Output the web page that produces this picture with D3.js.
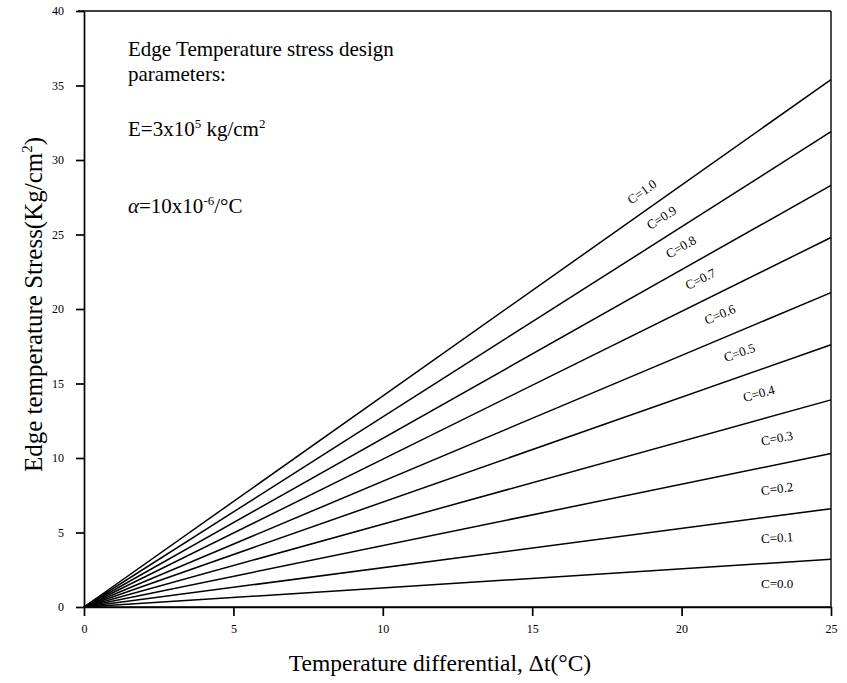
<!DOCTYPE html>
<html>
<head>
<meta charset="utf-8">
<script src="https://cdn.jsdelivr.net/npm/d3@7"></script>
<style>
  body { margin: 0; background: #fff; }
  svg { font-family: "Liberation Serif", "Times New Roman", serif; }
</style>
</head>
<body>
<div id="chart"></div>
<script>
// C coefficients, top line first
const cLabels = ['1.0', '0.9', '0.8', '0.7', '0.6', '0.5', '0.4', '0.3', '0.2', '0.1', '0.0'];
// stress (kg/cm2) read at dt = 25 C for each C
const stressAt25 = [35.4, 31.9, 28.3, 24.8, 21.1, 17.6, 13.9, 10.3, 6.6, 3.2, 0];
const xTicks = [0, 5, 10, 15, 20, 25];
const yTicks = [0, 5, 10, 15, 20, 25, 30, 35, 40];

const width = 847, height = 683;
const margin = { top: 11, right: 16, bottom: 76, left: 84 };

const svg = d3.select('#chart')
  .append('svg')
  .attr('width', width)
  .attr('height', height);

const x = d3.scaleLinear()
  .domain([0, 25])
  .range([margin.left, width - margin.right]);

const y = d3.scaleLinear()
  .domain([0, 40])
  .range([height - margin.bottom, margin.top]);

// frame (top + right)
svg.append('line')
  .attr('x1', x(0) - 6).attr('x2', x(25))
  .attr('y1', y(40)).attr('y2', y(40))
  .attr('stroke', '#000').attr('stroke-width', 1.4);
svg.append('line')
  .attr('x1', x(25)).attr('x2', x(25))
  .attr('y1', y(40)).attr('y2', y(0))
  .attr('stroke', '#000').attr('stroke-width', 1.4);

// axes
const xAxis = svg.append('g')
  .attr('transform', `translate(0,${y(0)})`)
  .call(d3.axisBottom(x).tickValues(xTicks).tickSize(9).tickPadding(8).tickSizeOuter(0));

const yAxis = svg.append('g')
  .attr('transform', `translate(${x(0)},0)`)
  .call(d3.axisLeft(y).tickValues(yTicks).tickSize(8).tickPadding(12).tickSizeOuter(0));

[xAxis, yAxis].forEach(g => {
  g.select('.domain').attr('stroke', '#000').attr('stroke-width', 1.7);
  g.selectAll('.tick line').attr('stroke', '#000').attr('stroke-width', 1.7);
  g.selectAll('.tick text')
    .attr('fill', '#000')
    .style('font-family', '"Liberation Serif", serif')
    .style('font-size', '12px');
});

// stress lines from origin
const line = d3.line()
  .x(d => x(d[0]))
  .y(d => y(d[1]));

svg.append('g')
  .selectAll('path')
  .data(stressAt25)
  .join('path')
  .attr('fill', 'none')
  .attr('stroke', '#000')
  .attr('stroke-width', 1.5)
  .attr('d', v => line([[0, 0], [25, v]]));

// C labels, placed between each line and the one above it
svg.append('g')
  .selectAll('text')
  .data(cLabels)
  .join('text')
  .attr('text-anchor', 'middle')
  .attr('dominant-baseline', 'middle')
  .style('font-size', '13px')
  .attr('transform', (d, i) => {
    const v = stressAt25[i];
    const upper = i === 0 ? v + (v - stressAt25[1]) : stressAt25[i - 1];
    const mid = (v + upper) / 2;
    const xl = Math.min(18.7 + 0.65 * i, 23.2);
    const px = x(xl), py = y(mid * xl / 25);
    const ang = Math.atan2(y(v) - y(0), x(25) - x(0)) * 180 / Math.PI;
    return `translate(${px},${py}) rotate(${ang})`;
  })
  .text(d => 'C=' + d);

// design parameters note
const note = svg.append('g').style('font-size', '21px').attr('fill', '#000');
note.append('text').attr('x', 128).attr('y', 56).text('Edge Temperature stress design');
note.append('text').attr('x', 128).attr('y', 81).text('parameters:');

const eText = note.append('text').attr('x', 128).attr('y', 136);
eText.append('tspan').text('E=3x10');
eText.append('tspan').attr('dy', -8).style('font-size', '13px').text('5');
eText.append('tspan').attr('dy', 8).text(' kg/cm');
eText.append('tspan').attr('dy', -8).style('font-size', '13px').text('2');

const aText = note.append('text').attr('x', 128).attr('y', 213);
aText.append('tspan').style('font-style', 'italic').text('α');
aText.append('tspan').text('=10x10');
aText.append('tspan').attr('dy', -8).style('font-size', '13px').text('-6');
aText.append('tspan').attr('dy', 8).text('/°C');

// axis titles
svg.append('text')
  .attr('x', 440)
  .attr('y', 671)
  .attr('text-anchor', 'middle')
  .style('font-size', '23.5px')
  .text('Temperature differential, Δt(°C)');

const yTitle = svg.append('text')
  .attr('transform', `translate(42,${y(20.3)}) rotate(-90)`)
  .attr('text-anchor', 'middle')
  .style('font-size', '25px');
yTitle.append('tspan').text('Edge temperature Stress(Kg/cm');
yTitle.append('tspan').attr('dy', -10).style('font-size', '15px').text('2');
yTitle.append('tspan').attr('dy', 10).text(')');
</script>
</body>
</html>
